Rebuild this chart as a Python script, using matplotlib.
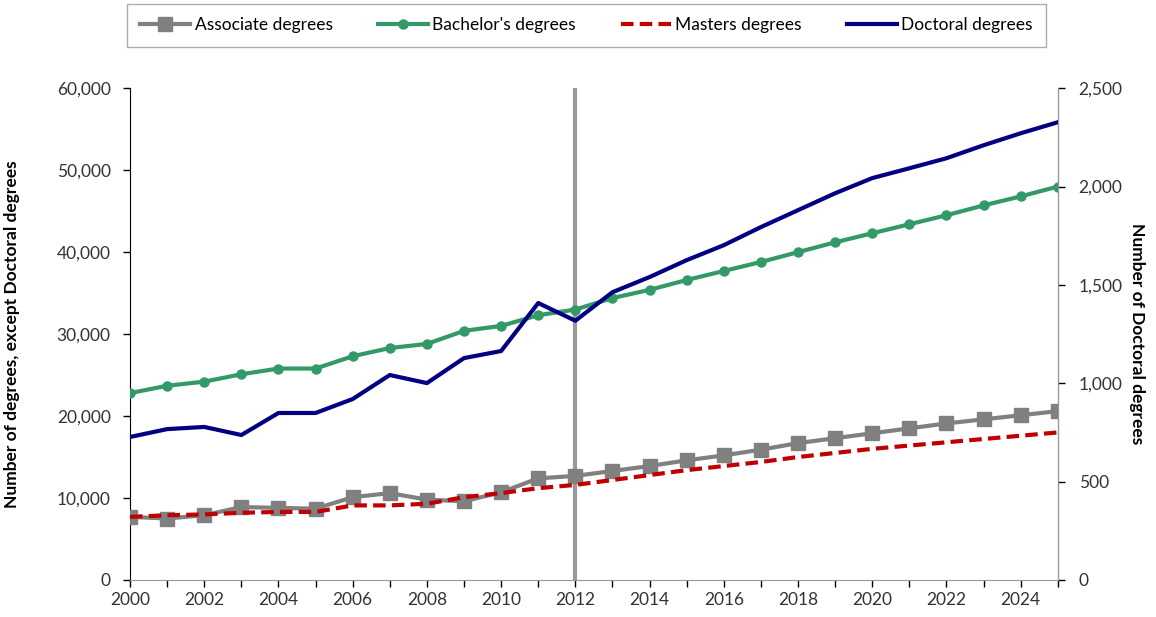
import matplotlib.pyplot as plt
from matplotlib.ticker import FuncFormatter, MultipleLocator

years = list(range(2000, 2026))

# thousands of degrees
associate = [7.7, 7.5, 7.9, 8.9, 8.8, 8.7, 10.1, 10.6, 9.8, 9.6, 10.7, 12.4, 12.7,
             13.3, 13.9, 14.6, 15.2, 15.9, 16.7, 17.3, 17.9, 18.5, 19.1, 19.6, 20.1, 20.6]
bachelor = [22.8, 23.7, 24.2, 25.1, 25.8, 25.8, 27.3, 28.3, 28.8, 30.4, 31.0, 32.3, 33.0,
            34.4, 35.4, 36.6, 37.7, 38.8, 40.0, 41.2, 42.3, 43.4, 44.5, 45.7, 46.8, 48.0]
masters = [7.7, 7.9, 8.0, 8.2, 8.3, 8.3, 9.1, 9.1, 9.3, 10.1, 10.6, 11.2, 11.6,
           12.2, 12.8, 13.4, 13.9, 14.4, 15.0, 15.5, 16.0, 16.4, 16.8, 17.2, 17.6, 18.0]
# doctoral degrees (right axis)
doctoral = [727, 767, 778, 737, 849, 849, 920, 1042, 1001, 1128, 1164, 1408, 1318,
            1463, 1540, 1626, 1702, 1794, 1880, 1966, 2043, 2093, 2144, 2210, 2271, 2327]

associate = [v * 1000 for v in associate]
bachelor = [v * 1000 for v in bachelor]
masters = [v * 1000 for v in masters]

plt.rcParams['font.family'] = ['Lato', 'DejaVu Sans']

fig = plt.figure(figsize=(11.56, 6.17), dpi=100)
ax = fig.add_axes([0.1125, 0.06, 0.8025, 0.797])
ax2 = ax.twinx()

ax.axvline(2012, color='#9a9a9a', lw=3, zorder=1)

l1, = ax.plot(years, associate, color='#808080', lw=3, marker='s', markersize=9.5,
              label='Associate degrees', zorder=3)
l2, = ax.plot(years, bachelor, color='#339966', lw=3, marker='o', markersize=6.5,
              label="Bachelor's degrees", zorder=3)
l3, = ax.plot(years, masters, color='#c00000', lw=3, ls=(0, (3, 1.5)),
              label='Masters degrees', zorder=4)
l4, = ax2.plot(years, doctoral, color='#000080', lw=3, label='Doctoral degrees')

ax.set_xlim(2000, 2025)
ax.set_ylim(0, 60000)
ax2.set_ylim(0, 2500)

ax.xaxis.set_major_locator(MultipleLocator(2))
ax.xaxis.set_minor_locator(MultipleLocator(1))
ax.yaxis.set_major_locator(MultipleLocator(10000))
ax2.yaxis.set_major_locator(MultipleLocator(500))
ax.yaxis.set_major_formatter(FuncFormatter(lambda v, p: f'{int(v):,}'))
ax2.yaxis.set_major_formatter(FuncFormatter(lambda v, p: f'{int(v):,}'))

for a in (ax, ax2):
    a.spines['top'].set_visible(False)
    a.tick_params(labelsize=12.5, length=5, width=1, direction='out', labelcolor='#333333')
    a.tick_params(which='minor', length=5, width=1, direction='out')
ax.tick_params(axis='y', pad=9)
ax2.tick_params(axis='y', pad=10)
ax.spines['left'].set_color('black')
ax.spines['bottom'].set_color('#999999')
ax2.spines['right'].set_color('#999999')
ax2.spines['left'].set_visible(False)
ax2.spines['bottom'].set_visible(False)

ax.set_ylabel('Number of degrees, except Doctoral degrees', fontsize=12.5,
              fontweight='bold', labelpad=26)
ax2.set_ylabel('Number of Doctoral degrees', fontsize=12.5, fontweight='bold',
               rotation=270, labelpad=16)

leg = fig.legend(handles=[l1, l2, l3, l4], loc='center', ncol=4, mode='expand',
                 bbox_to_anchor=(127 / 1156, 0.9587 - 0.033, 919 / 1156, 0.066),
                 fontsize=12.5, frameon=True, fancybox=False, edgecolor='#999999',
                 handlelength=2.9, handletextpad=0.25, borderpad=0.75, borderaxespad=0)
leg.get_frame().set_linewidth(1)

fig.savefig('out.png', dpi=100)
